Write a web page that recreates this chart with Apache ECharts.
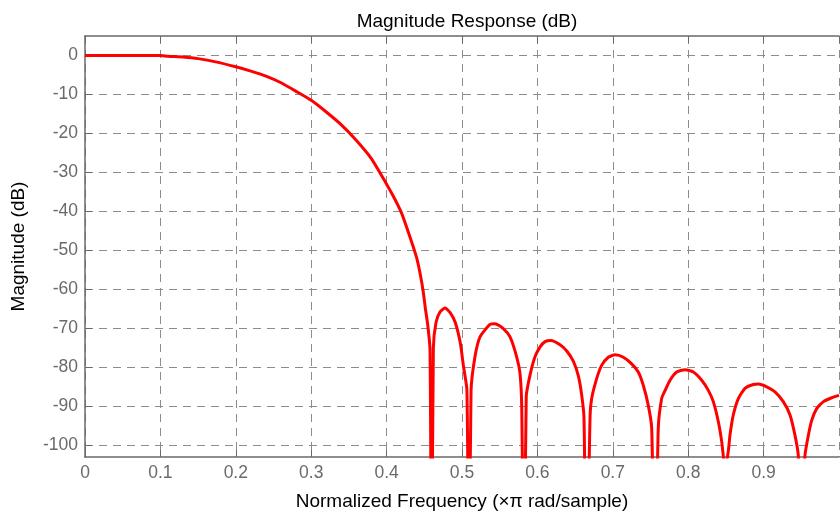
<!DOCTYPE html>
<html>
<head>
<meta charset="utf-8">
<script src="https://cdn.jsdelivr.net/npm/echarts@6/dist/echarts.min.js"></script>
<style>
html, body { margin: 0; padding: 0; background: #fff; }
#chart { width: 840px; height: 516px; }
</style>
</head>
<body>
<div id="chart"></div>
<script>
// 频率 (x pi rad/sample)
var freq = [
	0, 0.05, 0.1, 0.11, 0.13, 0.15, 0.175, 0.2, 0.22, 0.24, 0.26, 0.28, 0.3,
	0.32, 0.34, 0.36, 0.38, 0.4, 0.41, 0.42, 0.43, 0.44, 0.445, 0.4485, 0.4515,
	0.4545, 0.4576, 0.4597, 0.462, 0.4655, 0.4708, 0.4775, 0.4845, 0.4911, 0.4977,
	0.502, 0.5065, 0.5093, 0.512, 0.5172, 0.5239, 0.5371, 0.5438, 0.5544, 0.5637,
	0.5725, 0.5769, 0.5792, 0.5822, 0.5852, 0.5902, 0.5968, 0.6034, 0.6101, 0.618,
	0.63, 0.6389, 0.6476, 0.6543, 0.6588, 0.6618, 0.6652, 0.6698, 0.672, 0.6786,
	0.6852, 0.694, 0.703, 0.714, 0.725, 0.7338, 0.7404, 0.747, 0.7516, 0.756,
	0.7603, 0.7648, 0.7692, 0.7759, 0.7847, 0.7958, 0.8068, 0.8179, 0.8267, 0.8333,
	0.8399, 0.8444, 0.849, 0.8532, 0.8554, 0.8598, 0.8665, 0.8753, 0.8863, 0.893,
	0.9041, 0.9151, 0.9261, 0.935, 0.9416, 0.946, 0.9506, 0.9549, 0.9594, 0.9638,
	0.9704, 0.9794, 0.9903, 1.0
];
// 幅度 dB
var mag = [
	0, 0, 0, -0.2, -0.4, -0.8, -1.7, -2.9, -4.0, -5.3, -7.0, -9.2, -11.5,
	-14.5, -17.8, -21.8, -26.5, -33, -36.5, -40.5, -46, -52, -56.5, -60.5, -65,
	-69, -75.5, -140, -75, -68.5, -65.8, -64.8, -66, -68.5, -73.7,
	-79.8, -85.8, -140, -86, -77.3, -72.2, -69, -68.8, -70, -72.2,
	-77.3, -81.5, -90, -140, -87.5, -82, -77.3, -74.8, -73.4, -73.1,
	-74.2, -75.8, -78.4, -82.2, -87.2, -93, -140, -93, -88, -82.9,
	-79.5, -77.4, -76.8, -77.4, -79.1, -81.2, -84.6, -89.7, -95.6, -140,
	-95.6, -88, -86, -83.3, -81.2, -80.6, -81.2, -83.3, -85.9, -88.8,
	-93.9, -99, -106, -101.5, -97.4, -92.2, -88, -85.4, -84.4, -84.3,
	-85, -86.3, -88.8, -92.2, -97.4, -102.6, -125, -102.6, -97.4, -93.6,
	-90.6, -88.8, -87.8, -87.2
];
// 刻度
var yTicks = [0, -10, -20, -30, -40, -50, -60, -70, -80, -90, -100];

var data = [];
for (var i = 0; i < freq.length; i++) {
	data.push([freq[i], mag[i]]);
}

var FONT = 'Liberation Sans, Arial, Helvetica, sans-serif';
var axisGray = '#6a6a6a';
var gridGray = '#8c8c8c';

var mychart = echarts.init(document.getElementById('chart'), null, { renderer: 'canvas' });
var option = {
	animation: false,
	title: {
		text: 'Magnitude Response (dB)',
		left: 462,
		top: 7,
		textAlign: 'center',
		textStyle: { fontFamily: FONT, fontSize: 19, fontWeight: 'normal', color: '#000' }
	},
	grid: { left: 85, right: 1, top: 36, bottom: 58 },
	xAxis: [{
		type: 'value',
		position: 'bottom',
		min: 0,
		max: 1,
		interval: 0.1,
		name: 'Normalized Frequency (\u00d7\u03c0 rad/sample)',
		nameLocation: 'middle',
		nameGap: 35,
		nameTextStyle: { fontFamily: FONT, fontSize: 19, color: '#000' },
		axisLine: { show: true, onZero: false, lineStyle: { color: axisGray, width: 1.5 } },
		axisTick: { show: true, inside: true, length: 7, lineStyle: { color: axisGray } },
		axisLabel: { margin: 7, showMaxLabel: false, fontFamily: FONT, fontSize: 17.5, color: axisGray },
		splitLine: { show: true, lineStyle: { color: gridGray, type: [8, 6], width: 1 } }
	}, {
		type: 'value',
		position: 'top',
		min: 0,
		max: 1,
		interval: 0.1,
		axisLine: { show: true, onZero: false, lineStyle: { color: axisGray, width: 1.5 } },
		axisTick: { show: true, inside: true, length: 7, lineStyle: { color: axisGray } },
		axisLabel: { show: false },
		splitLine: { show: false }
	}],
	yAxis: {
		type: 'value',
		min: -103,
		max: 5,
		name: 'Magnitude (dB)',
		nameLocation: 'middle',
		nameGap: 57,
		nameTextStyle: { fontFamily: FONT, fontSize: 19, color: '#000' },
		axisLine: { show: true, onZero: false, lineStyle: { color: axisGray, width: 1.5 } },
		axisTick: { show: true, inside: true, length: 7, customValues: yTicks, lineStyle: { color: axisGray } },
		axisLabel: { margin: 7, customValues: yTicks, fontFamily: FONT, fontSize: 17.5, color: axisGray },
		splitLine: { show: true, lineStyle: { color: gridGray, type: [8, 6], width: 1 } }
	},
	series: [{
		type: 'line',
		data: data,
		xAxisIndex: 0,
		showSymbol: false,
		symbol: 'none',
		smooth: 0.2,
		clip: true,
		lineStyle: { color: '#ff0000', width: 3 }
	}]
};
mychart.setOption(option);
</script>
</body>
</html>
